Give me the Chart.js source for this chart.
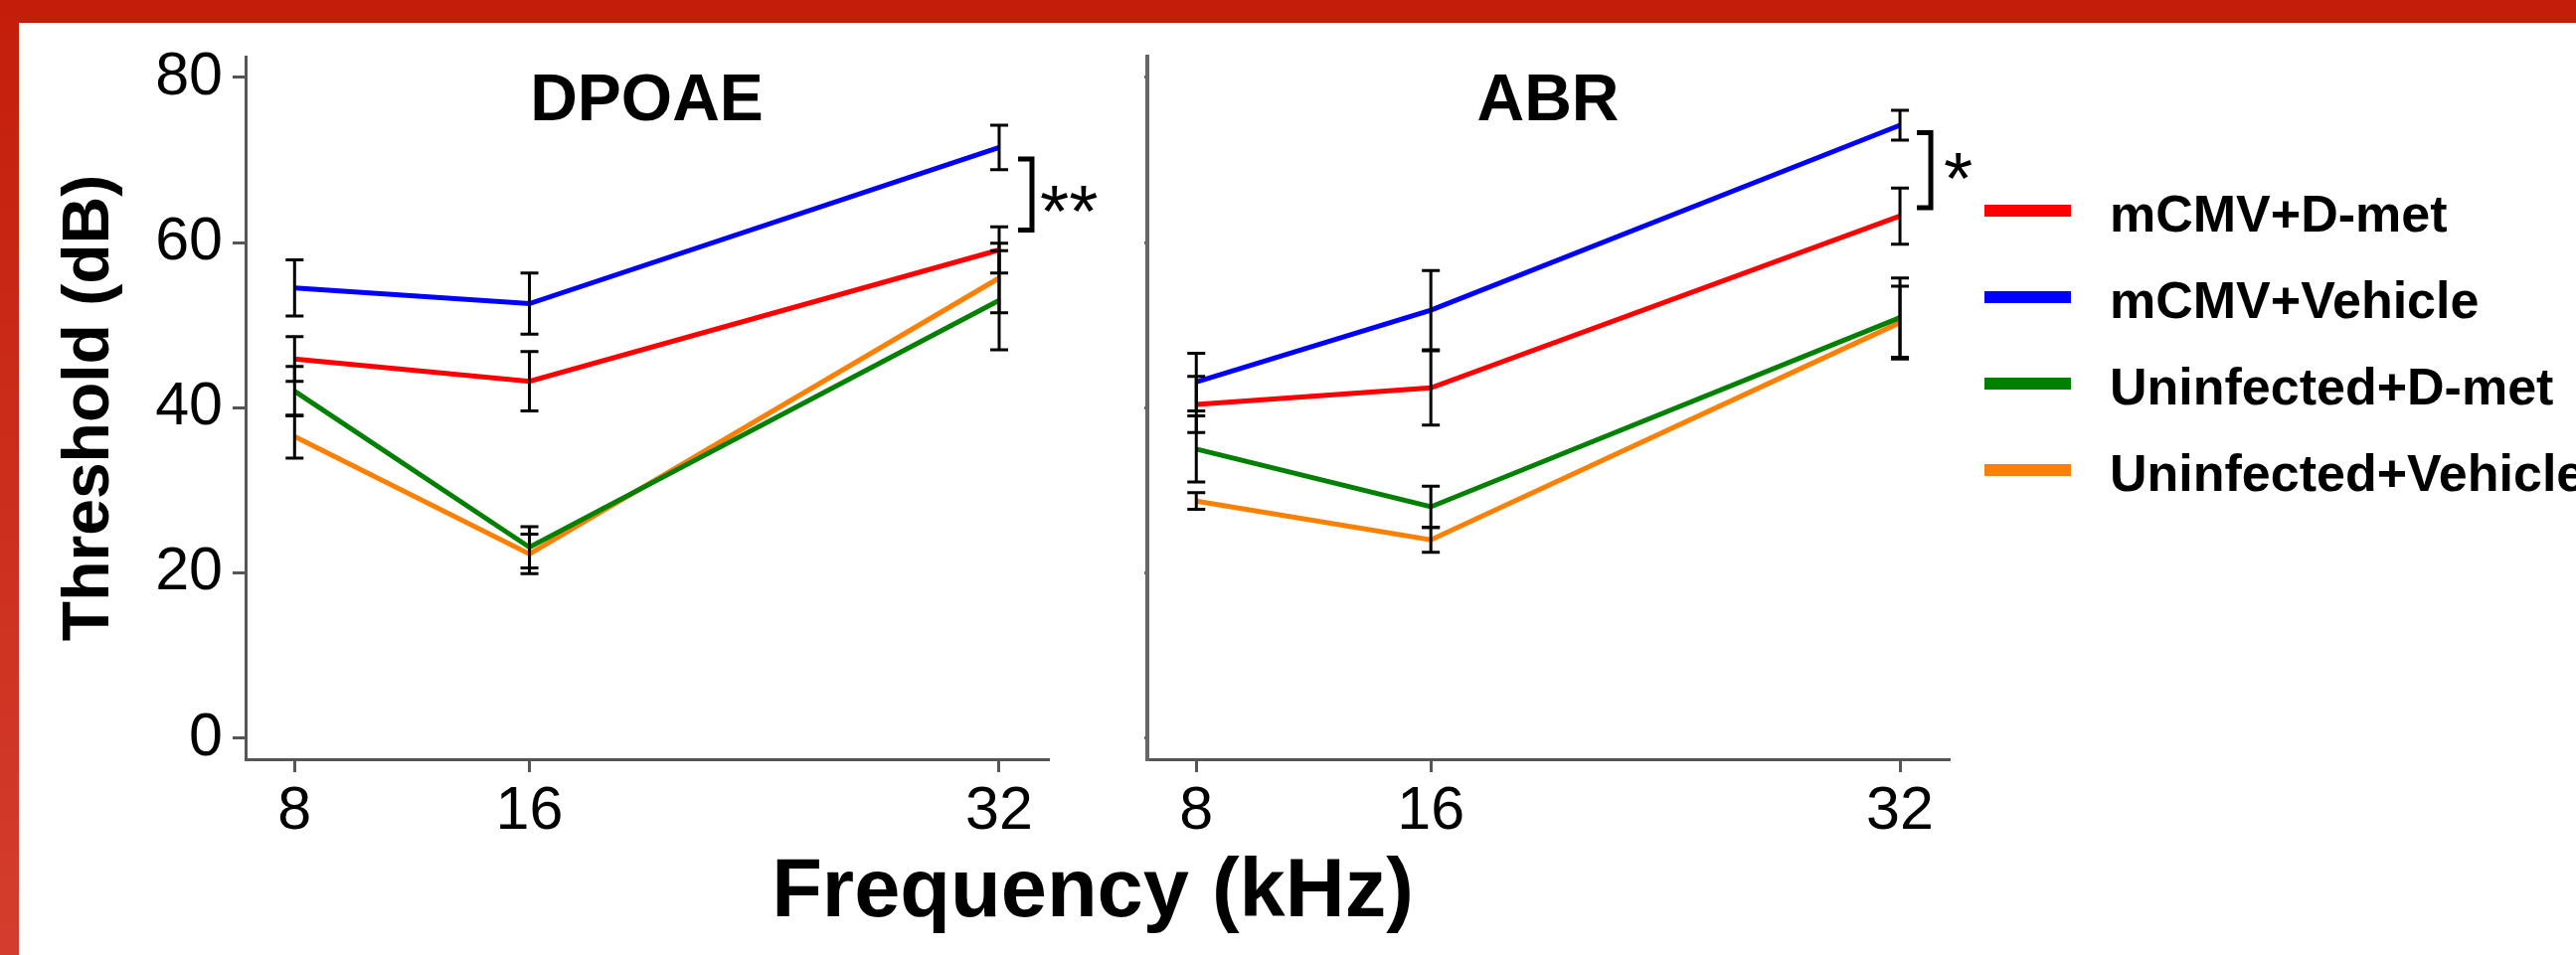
<!DOCTYPE html>
<html>
<head>
<meta charset="utf-8">
<script src="https://cdn.jsdelivr.net/npm/chart.js@4.4.1/dist/chart.umd.min.js"></script>
<style>
  html, body { margin: 0; padding: 0; }
  body { width: 2591px; height: 961px; position: relative; overflow: hidden; background: #fff; font-family: 'Liberation Sans', Arial, sans-serif; }
  #topband { position: absolute; left: 0; top: 0; width: 2591px; height: 23px; background: #c41e0b; }
  #leftband { position: absolute; left: 0; top: 0; width: 19px; height: 961px; background: linear-gradient(#c41e0b, #d43d2d); }
  canvas { position: absolute; top: 0; }
  #c1 { left: 0; }
  #c2 { left: 1120px; }
  #xtitle { position: absolute; left: 0; width: 2198px; top: 852px; text-align: center; font-weight: bold; font-size: 83px; line-height: 83px; color: #000; }
  .row { position: absolute; left: 1996px; height: 87px; display: flex; align-items: center; white-space: nowrap; }
  .swatch { width: 87px; height: 12px; margin-right: 39px; }
  .lbl { font-weight: bold; font-size: 52px; color: #000; position: relative; top: 3px; }
</style>
</head>
<body>
<div id="topband"></div>
<div id="leftband"></div>
<canvas id="c1" width="1120" height="961"></canvas>
<canvas id="c2" width="880" height="961"></canvas>
<div id="xtitle">Frequency (kHz)</div>
<div id="legend"></div>
<script>
// frequencies (kHz) and axis ticks
const freqs = [8, 16, 32];
const xTicks = [8, 16, 32];
const yTicks = [0, 20, 40, 60, 80];

const seriesNames = ['mCMV+D-met', 'mCMV+Vehicle', 'Uninfected+D-met', 'Uninfected+Vehicle'];
const seriesColors = ['#ff0000', '#0000ff', '#008000', '#ff8000'];

// DPOAE thresholds (dB), mean and error
const dpoaeMcmvDmet = [45.9, 43.2, 59.1];
const dpoaeMcmvDmetErr = [2.7, 3.6, 2.8];
const dpoaeMcmvVeh = [54.5, 52.6, 71.5];
const dpoaeMcmvVehErr = [3.4, 3.7, 2.7];
const dpoaeUninfDmet = [42.0, 23.1, 53.0];
const dpoaeUninfDmetErr = [3.0, 2.5, 6.0];
const dpoaeUninfVeh = [36.5, 22.3, 55.7];
const dpoaeUninfVehErr = [2.6, 2.4, 4.2];

// ABR thresholds (dB), mean and error
const abrMcmvDmet = [40.4, 42.4, 63.2];
const abrMcmvDmetErr = [3.4, 4.5, 3.4];
const abrMcmvVeh = [43.1, 51.8, 74.2];
const abrMcmvVehErr = [3.5, 4.8, 1.8];
const abrUninfDmet = [35.0, 28.0, 50.9];
const abrUninfDmetErr = [4.0, 2.5, 4.8];
const abrUninfVeh = [28.7, 24.0, 50.3];
const abrUninfVehErr = [1.0, 1.5, 4.4];

const FONT = "'Liberation Sans', Arial, sans-serif";

// error bars, panel title and significance bracket
const panelExtras = {
    id: 'panelExtras',
    afterDatasetsDraw(chart, args, opts) {
        const ctx = chart.ctx;
        const x = chart.scales.x, y = chart.scales.y;
        const area = chart.chartArea;
        ctx.save();
        ctx.strokeStyle = '#000';
        ctx.lineWidth = 3;
        chart.data.datasets.forEach(ds => {
            ds.data.forEach((p, i) => {
                const e = ds.errors[i];
                const px = x.getPixelForValue(p.x);
                const top = y.getPixelForValue(p.y + e);
                const bot = y.getPixelForValue(p.y - e);
                ctx.beginPath();
                ctx.moveTo(px, top); ctx.lineTo(px, bot);
                ctx.moveTo(px - 9, top); ctx.lineTo(px + 9, top);
                ctx.moveTo(px - 9, bot); ctx.lineTo(px + 9, bot);
                ctx.stroke();
            });
        });

        // title
        ctx.fillStyle = '#000';
        ctx.font = 'bold 66px ' + FONT;
        ctx.textAlign = 'center';
        ctx.textBaseline = 'alphabetic';
        ctx.fillText(opts.title, (area.left + area.right) / 2, area.top + 64);

        // bracket
        const b = opts.bracket;
        const bx = x.getPixelForValue(b.at) + b.dx;
        const bt = y.getPixelForValue(b.top);
        const bb = y.getPixelForValue(b.bottom);
        ctx.lineWidth = 5;
        ctx.beginPath();
        ctx.moveTo(bx - 14, bt); ctx.lineTo(bx, bt); ctx.lineTo(bx, bb); ctx.lineTo(bx - 14, bb);
        ctx.stroke();
        ctx.font = '75px ' + FONT;
        ctx.textAlign = 'left';
        ctx.fillText(b.text, bx + b.textDx, (bt + bb) / 2 + b.textDy);
        ctx.restore();
    }
};

function makeDatasets(means, errs) {
    return means.map((m, k) => ({
        label: seriesNames[k],
        data: freqs.map((f, i) => ({ x: f, y: m[i] })),
        errors: errs[k],
        borderColor: seriesColors[k],
        backgroundColor: seriesColors[k],
        borderWidth: 5,
        pointRadius: 0,
        tension: 0,
        fill: false
    }));
}

function makeChart(id, datasets, opts) {
    return new Chart(document.getElementById(id), {
        type: 'line',
        data: { datasets: datasets },
        plugins: [panelExtras],
        options: {
            responsive: false,
            animation: false,
            layout: { padding: { left: 0, top: 57, right: opts.padRight, bottom: 0 } },
            plugins: {
                legend: { display: false },
                tooltip: { enabled: false },
                panelExtras: { title: opts.title, bracket: opts.bracket }
            },
            scales: {
                x: {
                    type: 'linear',
                    min: 6.33,
                    max: 33.66,
                    afterBuildTicks: s => { s.ticks = xTicks.map(v => ({ value: v })); },
                    afterFit: s => { s.height = 197; },
                    grid: { display: true, drawOnChartArea: false, drawTicks: true, tickLength: 13, color: '#555', lineWidth: 3 },
                    border: { display: true, color: '#555', width: 3 },
                    ticks: { color: '#000', font: { family: FONT, size: 61 }, padding: 4, maxRotation: 0, autoSkip: false }
                },
                y: {
                    type: 'linear',
                    min: -2.56,
                    max: 82.5,
                    afterBuildTicks: s => { s.ticks = yTicks.map(v => ({ value: v })); },
                    afterFit: s => { s.width = opts.yWidth; },
                    grid: { display: true, drawOnChartArea: false, drawTicks: true, tickLength: opts.yTickLen, color: opts.yColor, lineWidth: 3 },
                    border: { display: true, color: opts.yColor, width: opts.yBorder },
                    ticks: { display: opts.yLabels, color: '#000', font: { family: FONT, size: 61 }, padding: 10 },
                    title: {
                        display: opts.yLabels,
                        text: 'Threshold (dB)',
                        color: '#000',
                        font: { family: FONT, size: 66, weight: 'bold' },
                        padding: { top: 51 }
                    }
                }
            }
        }
    });
}

makeChart('c1',
    makeDatasets([dpoaeMcmvDmet, dpoaeMcmvVeh, dpoaeUninfDmet, dpoaeUninfVeh],
                 [dpoaeMcmvDmetErr, dpoaeMcmvVehErr, dpoaeUninfDmetErr, dpoaeUninfVehErr]),
    { title: 'DPOAE', padRight: 66, yWidth: 247, yTickLen: 13, yColor: '#555', yBorder: 3, yLabels: true,
      bracket: { at: 32, dx: 33, top: 70.1, bottom: 61.5, text: '**', textDx: 8, textDy: 42 } });

makeChart('c2',
    makeDatasets([abrMcmvDmet, abrMcmvVeh, abrUninfDmet, abrUninfVeh],
                 [abrMcmvDmetErr, abrMcmvVehErr, abrUninfDmetErr, abrUninfVehErr]),
    { title: 'ABR', padRight: 40, yWidth: 34, yTickLen: 3, yColor: '#666', yBorder: 4, yLabels: false,
      bracket: { at: 32, dx: 31, top: 73.3, bottom: 64.2, text: '*', textDx: 13, textDy: 34 } });

// legend
const legend = document.getElementById('legend');
seriesNames.forEach((name, k) => {
    const row = document.createElement('div');
    row.className = 'row';
    row.style.top = (168 + k * 87) + 'px';
    row.innerHTML = '<div class="swatch" style="background:' + seriesColors[k] + '"></div><span class="lbl">' + name + '</span>';
    legend.appendChild(row);
});
</script>
</body>
</html>
